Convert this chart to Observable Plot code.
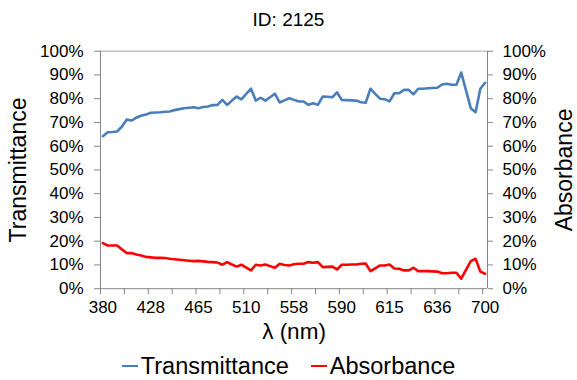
<!DOCTYPE html>
<html><head><meta charset="utf-8">
<script src="https://cdn.jsdelivr.net/npm/d3@7"></script>
<script src="https://cdn.jsdelivr.net/npm/@observablehq/plot@0.6"></script>
<style>
body{margin:0;background:#fff;font-family:"Liberation Sans",Arial,sans-serif;color:#000;}
#wrap{width:577px;}
#title{height:40px;line-height:40px;text-align:center;font-size:19px;}
#legend{display:flex;justify-content:center;align-items:center;gap:22px;font-size:23.5px;height:28px;padding-top:4px;line-height:28px;}
.item{display:flex;align-items:center;}
.sw{display:inline-block;width:16px;height:0;border-top:2.6px solid;margin-right:3px;}
</style></head><body>
<div id="wrap"><div id="title">ID: 2125</div><div id="chart"></div><div id="legend"></div></div>
<script>
const xTickLabels = ["380","428","465","510","558","590","615","636","700"];
const yTicks = [0,10,20,30,40,50,60,70,80,90,100];
const seriesNames = ["Transmittance","Absorbance"];
const seriesColors = ["#4A7EBB","#FF0000"];
const transmittance = [64.2,65.9,66.0,66.2,68.3,71.2,70.8,72.0,72.8,73.3,
  74.1,74.2,74.3,74.5,74.6,75.2,75.6,76.0,76.2,76.4,
  76.0,76.5,76.7,77.3,77.4,79.5,77.4,79.2,80.9,79.7,
  82.0,84.2,79.2,80.4,79.2,80.6,82.1,78.4,79.3,80.2,
  79.5,78.8,78.8,77.4,78.1,77.4,80.9,80.8,80.6,82.7,
  79.5,79.4,79.3,79.2,78.5,78.3,84.2,82.0,80.0,79.8,
  78.9,82.3,82.3,83.7,83.7,81.8,84.2,84.2,84.4,84.5,
  84.6,86.0,86.3,85.9,85.9,91.0,83.5,76.0,74.3,84.2,86.7];
const absorbance = [19.2,18.2,18.2,18.2,16.5,15.0,15.0,14.4,14.0,13.4,
  13.2,13.0,13.0,12.9,12.6,12.4,12.2,12.0,11.8,11.6,
  11.7,11.5,11.3,11.2,11.0,10.1,11.2,10.2,9.3,10.1,
  8.9,7.7,10.1,9.8,10.2,9.5,8.8,10.5,10.0,9.8,
  10.3,10.5,10.5,11.2,10.9,11.2,9.1,9.2,9.3,8.1,
  10.1,10.1,10.2,10.2,10.5,10.6,7.4,8.6,9.8,9.8,
  10.2,8.5,8.4,7.7,7.7,8.8,7.4,7.4,7.4,7.3,
  7.2,6.5,6.5,6.7,6.7,4.2,7.9,11.6,12.6,7.2,6.3];

const n = transmittance.length;
const data = transmittance.map((t, i) => ({i, t, a: absorbance[i]}));
const labelStep = 10, tickStep = 5;
const labelIdx = xTickLabels.map((_, k) => k * labelStep);
const boundaries = d3.range(0, n, tickStep).map(k => k - 0.5);
const axisGray = "#868686";
const font = "'Liberation Sans', Arial, sans-serif";

const chart = Plot.plot({
  width: 577, height: 308,
  marginTop: 10.7, marginBottom: 59.8, marginLeft: 100, marginRight: 90,
  style: {fontFamily: font, background: "white", color: "black", overflow: "visible"},
  x: {type: "linear", domain: [-0.5, n - 0.5], axis: null},
  y: {domain: [0, 100], axis: null},
  marks: [
    Plot.ruleY([100], {stroke: "#a6a6a6", strokeWidth: 1}),
    Plot.ruleY([0], {stroke: axisGray}),
    Plot.ruleX([-0.5, n - 0.5], {stroke: axisGray}),
    Plot.axisY({anchor: "left", ticks: yTicks, tickFormat: d => d + "%", tickSize: 6, tickPadding: 11, fontSize: 17, stroke: axisGray, fill: "black", label: null}),
    Plot.axisY({anchor: "right", ticks: yTicks, tickFormat: d => d + "%", tickSize: 5, tickPadding: 10, fontSize: 17, stroke: axisGray, fill: "black", label: null}),
    Plot.axisX({ticks: boundaries, tickFormat: () => "", tickSize: 6, stroke: axisGray, label: null}),
    Plot.axisX({ticks: labelIdx, tickFormat: i => xTickLabels[i / labelStep], tickSize: 0, tickPadding: 12.5, fontSize: 17, fill: "black", label: null}),
    Plot.line(data, {x: "i", y: "t", stroke: seriesColors[0], strokeWidth: 2.6, strokeLinejoin: "round"}),
    Plot.line(data, {x: "i", y: "a", stroke: seriesColors[1], strokeWidth: 2.6, strokeLinejoin: "round"}),
    Plot.text([seriesNames[0]], {text: d => d, frameAnchor: "left", textAnchor: "middle", lineAnchor: "middle", dx: -82, rotate: -90, fontSize: 23, fill: "black"}),
    Plot.text([seriesNames[1]], {text: d => d, frameAnchor: "right", textAnchor: "middle", lineAnchor: "middle", dx: 77, rotate: -90, fontSize: 23, fill: "black"}),
    Plot.text(["λ (nm)"], {text: d => d, frameAnchor: "bottom", textAnchor: "middle", lineAnchor: "middle", dy: 43, fontSize: 22.5, fill: "black"})
  ]
});
document.getElementById("chart").appendChild(chart);

const legend = document.getElementById("legend");
seriesNames.forEach((name, k) => {
  const item = document.createElement("span");
  item.className = "item";
  const sw = document.createElement("span");
  sw.className = "sw";
  sw.style.borderTopColor = seriesColors[k];
  item.appendChild(sw);
  item.appendChild(document.createTextNode(name));
  legend.appendChild(item);
});
</script>
</body></html>
